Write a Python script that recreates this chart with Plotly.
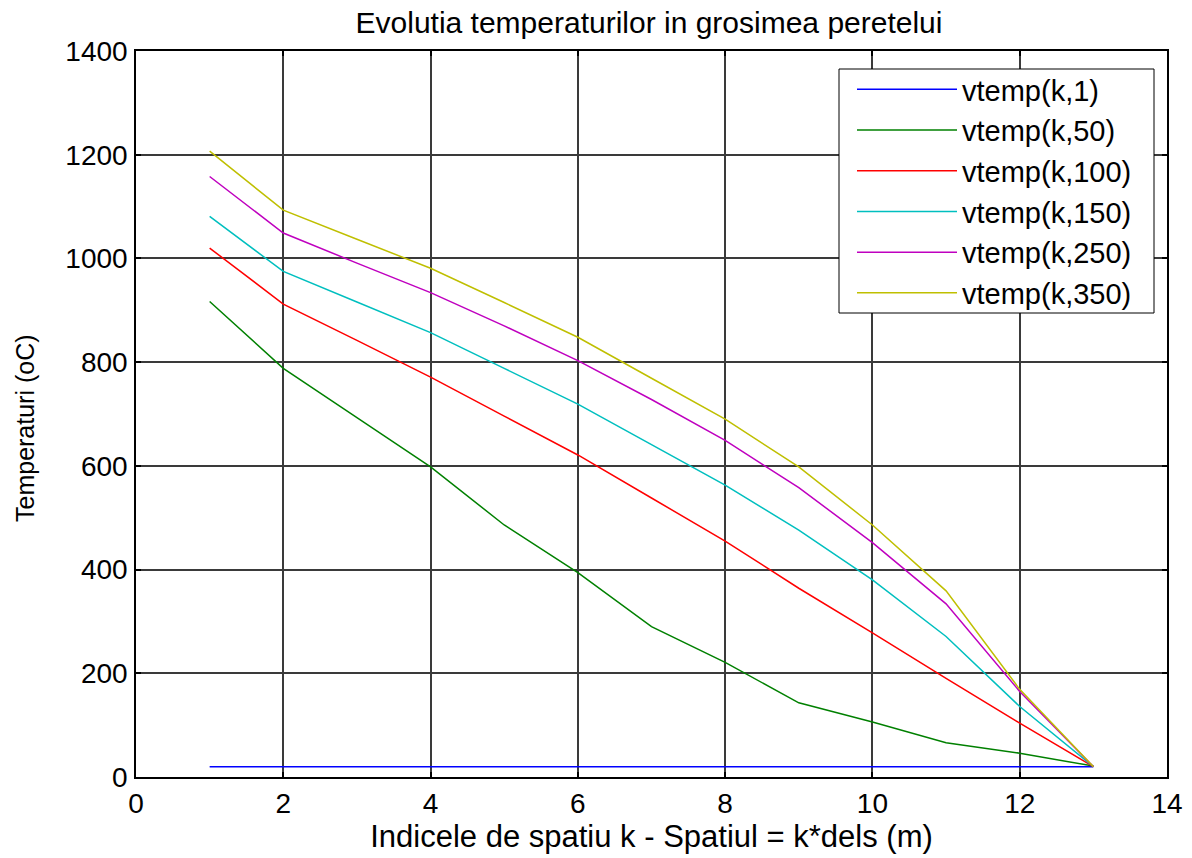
import plotly.graph_objects as go

# ---- data ----
k = [1, 2, 3, 4, 5, 6, 7, 8, 9, 10, 11, 12, 13]
vtemp_1 = [20, 20, 20, 20, 20, 20, 20, 20, 20, 20, 20, 20, 20]
vtemp_50 = [917, 788, 693, 598, 486, 394, 290, 221, 143, 106, 66, 46, 21]
vtemp_100 = [1020, 912, 842, 771, 696, 621, 538, 455, 364, 278, 190, 104, 20]
vtemp_150 = [1081, 975, 916, 857, 788, 719, 641, 563, 476, 380, 271, 136, 20]
vtemp_250 = [1158, 1049, 991, 934, 870, 803, 728, 649, 558, 452, 334, 165, 20]
vtemp_350 = [1207, 1093, 1037, 981, 915, 848, 769, 690, 598, 486, 359, 169, 20]

series_names = ["vtemp(k,1)", "vtemp(k,50)", "vtemp(k,100)",
                "vtemp(k,150)", "vtemp(k,250)", "vtemp(k,350)"]
series_values = [vtemp_1, vtemp_50, vtemp_100, vtemp_150, vtemp_250, vtemp_350]
series_colors = ["#0000ff", "#008000", "#ff0000", "#00bfbf", "#bf00bf", "#bfbf00"]

x_ticks = [0, 2, 4, 6, 8, 10, 12, 14]
y_ticks = [0, 200, 400, 600, 800, 1000, 1200, 1400]

title_text = "Evolutia temperaturilor in grosimea peretelui"
x_title = "Indicele de spatiu k - Spatiul = k*dels (m)"
y_title = "Temperaturi (oC)"

FONT = "Liberation Sans, Arial, Helvetica, sans-serif"

# plot-area geometry in pixels (layout only)
W, H = 1192, 858
L, R, T, B = 136, 25, 51, 81
PW, PH = W - L - R, H - T - B


def px_x(p):
    return (p - L) / PW


def px_y(p):
    return (H - B - p) / PH


fig = go.Figure()
for name, vals, col in zip(series_names, series_values, series_colors):
    fig.add_trace(go.Scatter(x=k, y=vals, mode="lines", name=name,
                             line=dict(color=col, width=1.5)))

axis_common = dict(
    showgrid=True, gridcolor="#3a3a3a", gridwidth=1.5,
    showline=True, linecolor="black", linewidth=1.5, mirror="ticks",
    ticks="inside", ticklen=5, tickwidth=2, tickcolor="black",
    zeroline=False, automargin=False,
    tickfont=dict(size=28, color="black", family=FONT),
)

fig.update_layout(
    width=W, height=H,
    margin=dict(l=L, r=R, t=T, b=B, autoexpand=False),
    paper_bgcolor="white", plot_bgcolor="white",
    font=dict(family=FONT, color="black", size=28),
    title=dict(text=title_text, x=649 / W, xanchor="center",
               y=1 - 22 / H, yanchor="middle",
               font=dict(size=30, family=FONT, color="black")),
    showlegend=True,
    legend=dict(x=px_x(852), y=px_y(64),
                xanchor="left", yanchor="top",
                bgcolor="rgba(0,0,0,0)", borderwidth=0,
                font=dict(size=29, family=FONT, color="black"),
                itemwidth=100, tracegroupgap=0),
    shapes=[dict(type="rect", xref="paper", yref="paper",
                 x0=px_x(839), x1=px_x(1154), y0=px_y(313), y1=px_y(69),
                 fillcolor="white", line=dict(color="black", width=1),
                 layer="above")],
    annotations=[dict(text=y_title, xref="paper", yref="paper",
                      x=px_x(25), y=px_y(428), xanchor="center",
                      yanchor="middle", textangle=-90, showarrow=False,
                      font=dict(size=25, family=FONT, color="black"))],
    xaxis=dict(range=[0, 14], tickvals=x_ticks,
               ticktext=[str(v) for v in x_ticks],
               ticklabelstandoff=1,
               title=dict(text=x_title, standoff=5,
                          font=dict(size=31, family=FONT, color="black")),
               **axis_common),
    yaxis=dict(range=[0, 1400], tickvals=y_ticks,
               ticktext=[str(v) for v in y_ticks],
               ticklabelstandoff=1,
               **axis_common),
)

fig.write_html("out.html")
